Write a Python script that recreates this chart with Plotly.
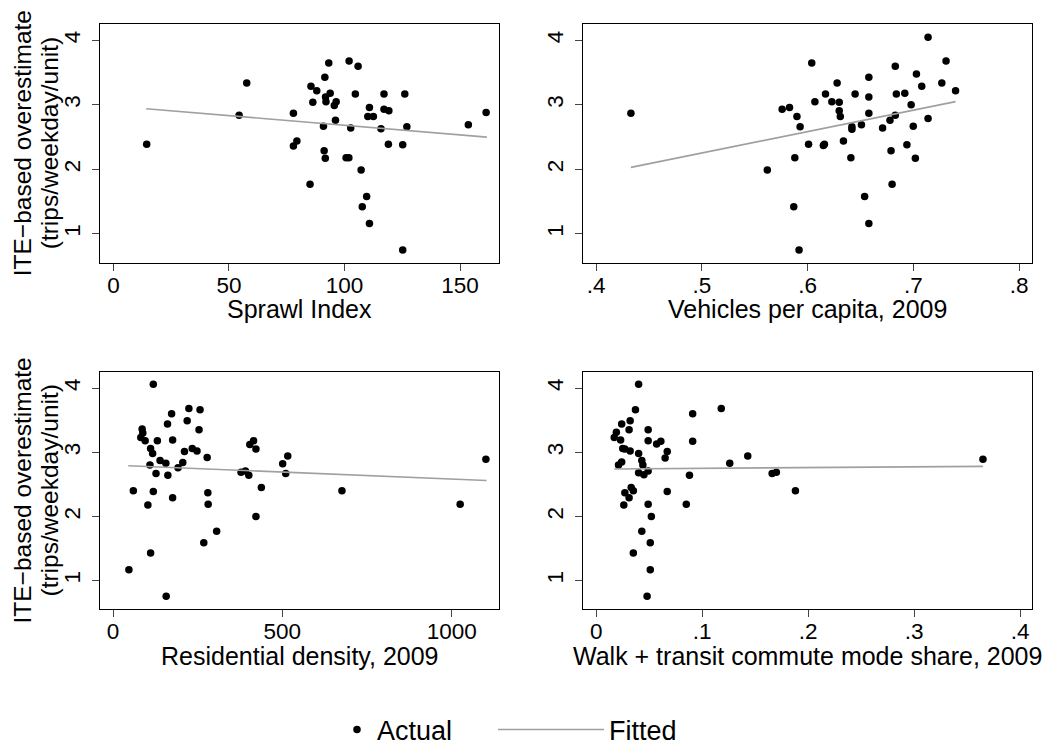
import plotly.graph_objects as go

# ---------------- data ----------------
y_title_1 = "ITE−based overestimate"
y_title_2 = "(trips/weekday/unit)"

sprawl_x = [14.4, 57.7, 54.4, 77.9, 79.4, 77.9, 85.1, 85.5, 88.0, 86.3, 91.5, 93.2, 91.8, 93.8, 92.0,
            95.6, 96.4, 96.1, 90.9, 91.2, 91.7, 102.0, 105.9, 104.7, 102.7, 100.7, 101.9, 107.2, 109.6,
            107.7, 110.8, 110.8, 110.1, 112.5, 117.1, 117.1, 119.2, 115.8, 119.0, 125.2, 126.1, 127.0,
            125.2, 153.6, 161.3]
sprawl_y = [2.39, 3.34, 2.84, 2.87, 2.44, 2.36, 1.77, 3.29, 3.22, 3.04, 3.43, 3.65, 3.12, 3.18, 3.05,
            2.99, 3.05, 2.76, 2.67, 2.29, 2.17, 3.68, 3.60, 3.17, 2.64, 2.18, 2.18, 1.99, 1.58,
            1.42, 1.16, 2.96, 2.82, 2.82, 3.17, 2.93, 2.91, 2.63, 2.39, 2.38, 3.17, 2.66,
            0.75, 2.69, 2.88]
sprawl_fit_x = [14.2, 161.6]
sprawl_fit_y = [2.94, 2.50]

vpc_x = [0.433, 0.562, 0.576, 0.583, 0.590, 0.593, 0.588, 0.587, 0.592, 0.604, 0.607, 0.601, 0.615,
         0.616, 0.617, 0.623, 0.628, 0.630, 0.630, 0.631, 0.634, 0.641, 0.642, 0.642, 0.645, 0.651,
         0.654, 0.658, 0.658, 0.658, 0.658, 0.671, 0.678, 0.679, 0.680, 0.683, 0.684, 0.683, 0.692,
         0.698, 0.700, 0.694, 0.702, 0.703, 0.708, 0.714, 0.714, 0.727, 0.731, 0.740]
vpc_y = [2.87, 1.99, 2.93, 2.96, 2.82, 2.66, 2.18, 1.42, 0.75, 3.65, 3.05, 2.39, 2.37,
         2.39, 3.17, 3.05, 3.34, 3.04, 2.91, 2.82, 2.44, 2.18, 2.66, 2.62, 3.17, 2.69,
         1.58, 1.16, 3.43, 3.12, 2.87, 2.64, 2.76, 2.29, 1.77, 3.60, 3.17, 2.84, 3.18,
         3.00, 2.67, 2.38, 2.17, 3.48, 3.29, 4.05, 2.79, 3.34, 3.68, 3.22]
vpc_fit_x = [0.433, 0.740]
vpc_fit_y = [2.03, 3.05]

dens_x = [119, 224, 257, 173, 219, 161, 86, 88, 82, 95, 131, 176, 254, 111, 117, 139, 156, 109, 127,
          162, 192, 206, 211, 234, 248, 278, 60, 119, 103, 176, 280, 281, 306, 268, 111, 47, 157,
          404, 415, 422, 378, 391, 401, 438, 422, 501, 516, 510, 676, 1025, 1101]
dens_y = [4.06, 3.68, 3.66, 3.60, 3.49, 3.44, 3.36, 3.30, 3.23, 3.18, 3.18, 3.19, 3.35, 3.06, 2.98,
          2.87, 2.83, 2.80, 2.67, 2.64, 2.76, 2.84, 3.01, 3.06, 3.02, 2.92, 2.40, 2.39, 2.18, 2.29,
          2.37, 2.19, 1.77, 1.59, 1.43, 1.17, 0.76, 3.12, 3.18, 3.05, 2.69, 2.71, 2.64, 2.45, 2.00,
          2.82, 2.94, 2.67, 2.40, 2.19, 2.89]
dens_fit_x = [45, 1103]
dens_fit_y = [2.79, 2.56]

walk_x = [0.040, 0.037, 0.091, 0.118, 0.032, 0.024, 0.031, 0.019, 0.017, 0.023, 0.049, 0.049, 0.057,
          0.061, 0.091, 0.025, 0.027, 0.032, 0.040, 0.067, 0.065, 0.043, 0.024, 0.021, 0.044, 0.040,
          0.045, 0.049, 0.126, 0.143, 0.088, 0.166, 0.170, 0.188, 0.365, 0.033, 0.027, 0.035, 0.031,
          0.026, 0.067, 0.049, 0.085, 0.052, 0.043, 0.051, 0.035, 0.051, 0.048]
walk_y = [4.06, 3.66, 3.60, 3.68, 3.49, 3.44, 3.35, 3.31, 3.23, 3.19, 3.35, 3.18, 3.13,
          3.17, 3.17, 3.06, 3.05, 3.02, 2.98, 3.01, 2.91, 2.87, 2.85, 2.80, 2.80, 2.68,
          2.65, 2.71, 2.83, 2.94, 2.64, 2.67, 2.69, 2.40, 2.89, 2.45, 2.37, 2.40, 2.29,
          2.18, 2.39, 2.19, 2.19, 2.00, 1.77, 1.59, 1.43, 1.17, 0.76]
walk_fit_x = [0.017, 0.365]
walk_fit_y = [2.74, 2.78]

x_titles = ["Sprawl Index", "Vehicles per capita, 2009",
            "Residential density, 2009", "Walk + transit commute mode share, 2009"]
tick_vals = [[0, 50, 100, 150], [0.4, 0.5, 0.6, 0.7, 0.8], [0, 500, 1000], [0, 0.1, 0.2, 0.3, 0.4]]
tick_text = [["0", "50", "100", "150"], [".4", ".5", ".6", ".7", ".8"],
             ["0", "500", "1000"], ["0", ".1", ".2", ".3", ".4"]]
y_ticks = [1, 2, 3, 4]

# ---------------- layout geometry (pixels) ----------------
W, H = 1045, 746
FONT = "Liberation Sans, Arial, Helvetica, sans-serif"
col_px = [(100, 499.3), (583, 1031.7), (100, 499.3), (583, 1031.7)]
row_px = [(24, 262.5), (24, 262.5), (371.7, 609.3), (371.7, 609.3)]
x_ranges = [[-5.8, 167.0], [0.3877, 0.812], [-38.4, 1140.6], [-0.0125, 0.411]]
y_range = [0.555, 4.254]
FIT_COLOR = "#a0a0a0"

panels = [(sprawl_x, sprawl_y, sprawl_fit_x, sprawl_fit_y),
          (vpc_x, vpc_y, vpc_fit_x, vpc_fit_y),
          (dens_x, dens_y, dens_fit_x, dens_fit_y),
          (walk_x, walk_y, walk_fit_x, walk_fit_y)]

fig = go.Figure()
annotations = []
for i, (px_, py_, fx, fy) in enumerate(panels):
    n = "" if i == 0 else str(i + 1)
    xa, ya = "x" + n, "y" + n
    fig.add_trace(go.Scatter(x=px_, y=py_, mode="markers", xaxis=xa, yaxis=ya,
                             marker=dict(color="black", size=7.5, line=dict(width=0)),
                             name="Actual", showlegend=(i == 0), legend="legend"))
    fig.add_trace(go.Scatter(x=fx, y=fy, mode="lines", xaxis=xa, yaxis=ya,
                             line=dict(color=FIT_COLOR, width=1.6),
                             name="Fitted", showlegend=(i == 0), legend="legend2"))
    x0, x1 = col_px[i]
    y0, y1 = row_px[i]
    common = dict(showline=True, linecolor="black", linewidth=1.3, mirror=True,
                  ticks="outside", ticklen=7, tickwidth=1.2, tickcolor="#444",
                  showgrid=False, zeroline=False, automargin=False,
                  tickfont=dict(family=FONT, size=22.5, color="black"))
    fig.layout["xaxis" + n] = dict(domain=[x0 / W, x1 / W], range=x_ranges[i],
                                   tickvals=tick_vals[i], ticktext=tick_text[i],
                                   ticklabelstandoff=-5, anchor=ya, **common)
    fig.layout["yaxis" + n] = dict(domain=[1 - y1 / H, 1 - y0 / H], range=y_range,
                                   tickvals=y_ticks, tickangle=-90, ticklabelstandoff=3,
                                   anchor=xa, **common)
    # x-axis title
    annotations.append(dict(text=x_titles[i], xref="paper", yref="paper",
                            x=(x0 + x1) / 2 / W, y=1 - (y1 + 46.5) / H,
                            xanchor="center", yanchor="middle", showarrow=False,
                            font=dict(family=FONT, size=25, color="black")))
    if i in (0, 2):
        cy = 1 - (y0 + y1) / 2 / H
        annotations.append(dict(text=y_title_1, xref="paper", yref="paper",
                                x=22 / W, y=cy, xanchor="center", yanchor="middle",
                                textangle=-90, showarrow=False,
                                font=dict(family=FONT, size=24.5, color="black")))
        annotations.append(dict(text=y_title_2, xref="paper", yref="paper",
                                x=49 / W, y=cy, xanchor="center", yanchor="middle",
                                textangle=-90, showarrow=False,
                                font=dict(family=FONT, size=24.5, color="black")))

legend_font = dict(family=FONT, size=27, color="black")
fig.update_layout(
    width=W, height=H, margin=dict(l=0, r=0, t=0, b=0, autoexpand=False),
    paper_bgcolor="white", plot_bgcolor="white",
    annotations=annotations,
    showlegend=True,
    legend=dict(orientation="h", x=337 / W, y=1 - 730 / H, xanchor="left", yanchor="middle",
                font=legend_font, itemwidth=30, bgcolor="rgba(0,0,0,0)"),
    legend2=dict(orientation="h", x=493 / W, y=1 - 730 / H, xanchor="left", yanchor="middle",
                 font=legend_font, itemwidth=106, bgcolor="rgba(0,0,0,0)"),
)

fig.write_html("out.html")
